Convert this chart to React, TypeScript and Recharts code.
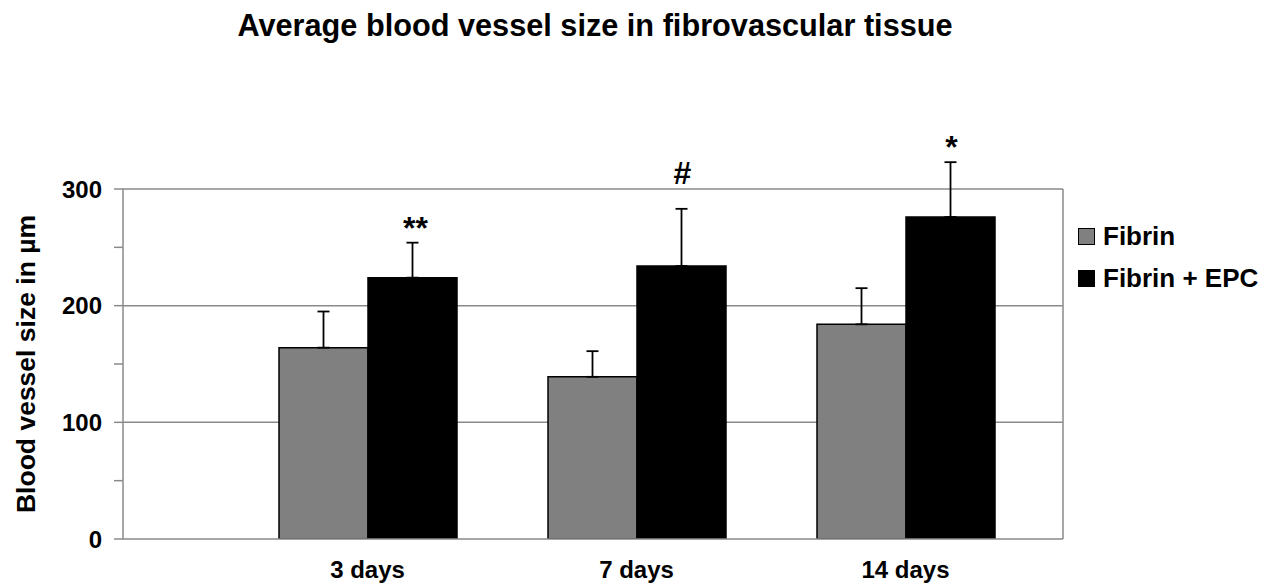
import React from 'react';
import { BarChart, Bar, XAxis, YAxis, CartesianGrid, ErrorBar, LabelList, Label } from 'recharts';

const categories = ['3 days', '7 days', '14 days'];
const fibrin = [164, 139, 184];
const fibrinErr = [31, 22, 31];
const fibrinEpc = [224, 234, 276];
const fibrinEpcErr = [30, 49, 47];
const significance = ['**', '#', '*'];
const yTicks = [0, 50, 100, 150, 200, 250, 300];
const gridValues = [100, 200, 300];
const seriesNames = ['Fibrin', 'Fibrin + EPC'];
const seriesColors = ['#808080', '#000000'];
const title = 'Average blood vessel size in fibrovascular tissue';
const yLabel = 'Blood vessel size in µm';

const data = categories.map((c, i) => ({
  day: c,
  fibrin: fibrin[i],
  fibrinErr: [0, fibrinErr[i]],
  epc: fibrinEpc[i],
  epcErr: [0, fibrinEpcErr[i]],
  sig: significance[i],
}));

const FONT = '"Liberation Sans", Arial, Helvetica, sans-serif';
const GRID = '#8a8a8a';

const renderSig = (props: any) => {
  const vb = props.viewBox || props;
  const idx = props.index ?? 0;
  const x = vb.x;
  const y = vb.y;
  const w = vb.width;
  const h = vb.height;
  const val = fibrinEpc[idx];
  const ppu = h / val;
  const errTop = y - fibrinEpcErr[idx] * ppu;
  const text = String(props.value ?? significance[idx]);
  const gap = text === '#' ? 25 : 4;
  return (
    <text
      x={x + w / 2 + (text === '**' ? 3 : 1)}
      y={errTop - gap}
      textAnchor="middle"
      fontFamily={FONT}
      fontWeight="bold"
      fontSize={32}
      fill="#000"
    >
      {text}
    </text>
  );
};

const renderYLabel = (props: any) => {
  const vb = props.viewBox || { x: 0, y: 189, width: 123, height: 350 };
  const cx = vb.x + 26;
  const cy = vb.y + vb.height / 2;
  return (
    <text
      x={cx}
      y={cy}
      transform={`rotate(-90 ${cx} ${cy})`}
      textAnchor="middle"
      dominantBaseline="central"
      fontFamily={FONT}
      fontWeight="bold"
      fontSize={26.5}
      fill="#000"
    >
      {yLabel}
    </text>
  );
};

export default function App() {
  return (
    <div style={{ position: 'absolute', left: 0, top: 0, width: 1264, height: 585, background: '#fff' }}>
      <svg width={1264} height={60} style={{ position: 'absolute', left: 0, top: 0 }}>
        <text x={595} y={36} textAnchor="middle" fontFamily={FONT} fontWeight="bold" fontSize={30.7} fill="#000">
          {title}
        </text>
      </svg>
      <BarChart
        width={1264}
        height={585}
        data={data}
        margin={{ top: 189, right: 201, bottom: 0, left: 0 }}
        barGap={0}
        barSize={89}
      >
        <CartesianGrid
          stroke={GRID}
          strokeWidth={1.5}
          horizontalValues={gridValues}
          verticalCoordinatesGenerator={({ offset }: any) => [offset.left + offset.width]}
        />
        <XAxis
          dataKey="day"
          height={46}
          padding={{ left: 110, right: 23 }}
          axisLine={{ stroke: GRID, strokeWidth: 1.5 }}
          tickLine={false}
          tickSize={0}
          tickMargin={22}
          tick={{ fontFamily: FONT, fontWeight: 'bold', fontSize: 24, fill: '#000' }}
        />
        <YAxis
          width={123}
          domain={[0, 300]}
          allowDataOverflow={true}
          ticks={yTicks}
          interval={0}
          tickFormatter={(v: number) => (v % 100 === 0 ? String(v) : '')}
          axisLine={{ stroke: GRID, strokeWidth: 1.5 }}
          tickLine={{ stroke: GRID, strokeWidth: 1.5 }}
          tickSize={9}
          tickMargin={12}
          tick={{ fontFamily: FONT, fontWeight: 'bold', fontSize: 24, fill: '#000' }}
        >
          <Label content={renderYLabel} />
        </YAxis>
        <Bar dataKey="fibrin" name={seriesNames[0]} fill={seriesColors[0]} stroke="#000" strokeWidth={1.5} isAnimationActive={false}>
          <ErrorBar dataKey="fibrinErr" direction="y" width={6} stroke="#000" strokeWidth={1.8} />
        </Bar>
        <Bar dataKey="epc" name={seriesNames[1]} fill={seriesColors[1]} stroke="#000" strokeWidth={1.5} isAnimationActive={false}>
          <ErrorBar dataKey="epcErr" direction="y" width={6} stroke="#000" strokeWidth={1.8} />
          <LabelList dataKey="sig" content={renderSig} />
        </Bar>
      </BarChart>
      {seriesNames.map((name, i) => (
        <div
          key={name}
          style={{
            position: 'absolute',
            left: 1078,
            top: 221 + i * 42,
            height: 30,
            display: 'flex',
            alignItems: 'center',
            fontFamily: FONT,
            fontWeight: 'bold',
            fontSize: 26,
            color: '#000',
            whiteSpace: 'nowrap',
          }}
        >
          <span
            style={{
              display: 'inline-block',
              width: 15,
              height: 15,
              background: seriesColors[i],
              border: '1px solid #000',
              marginRight: 8,
            }}
          />
          <span>{name}</span>
        </div>
      ))}
    </div>
  );
}
